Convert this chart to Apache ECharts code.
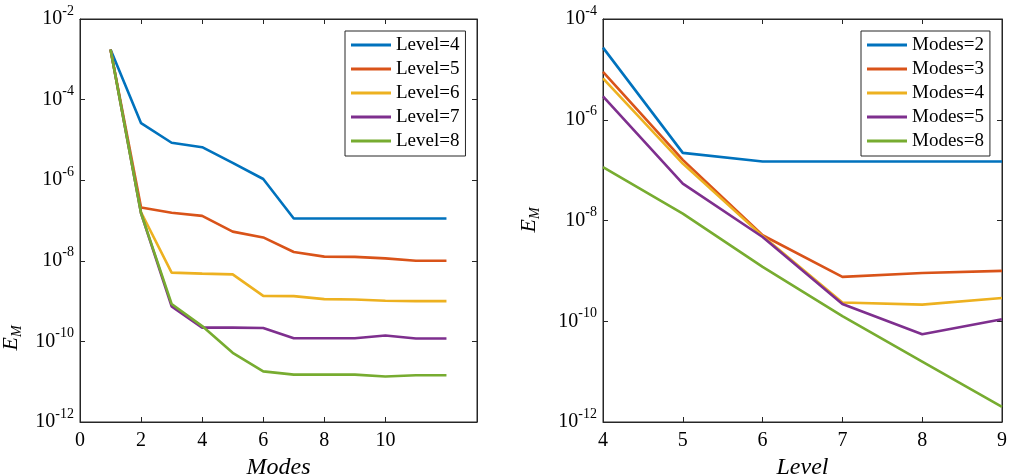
<!DOCTYPE html>
<html>
<head>
<meta charset="utf-8">
<script src="https://cdn.jsdelivr.net/npm/echarts@6/dist/echarts.min.js"></script>
<style>html,body{margin:0;padding:0;background:#fff;}#c{width:1015px;height:476px;}</style>
</head>
<body>
<div id="c"></div>
<script>
// ---- Data ----
const modesX = [1, 2, 3, 4, 5, 6, 7, 8, 9, 10, 11, 12];
const level4 = [1.76e-3, 2.6e-5, 8.5e-6, 6.6e-6, 2.7e-6, 1.07e-6, 1.12e-7, 1.12e-7, 1.12e-7, 1.12e-7, 1.12e-7, 1.12e-7];
const level5 = [1.76e-3, 2.1e-7, 1.55e-7, 1.3e-7, 5.3e-8, 3.8e-8, 1.65e-8, 1.27e-8, 1.25e-8, 1.15e-8, 1.0e-8, 1.0e-8];
const level6 = [1.76e-3, 1.6e-7, 5.1e-9, 4.8e-9, 4.6e-9, 1.35e-9, 1.33e-9, 1.12e-9, 1.1e-9, 1.02e-9, 1.0e-9, 1.0e-9];
const level7 = [1.76e-3, 1.5e-7, 7.4e-10, 2.2e-10, 2.2e-10, 2.15e-10, 1.2e-10, 1.2e-10, 1.2e-10, 1.4e-10, 1.18e-10, 1.18e-10];
const level8 = [1.76e-3, 1.5e-7, 8.5e-10, 2.4e-10, 5.2e-11, 1.8e-11, 1.5e-11, 1.5e-11, 1.5e-11, 1.35e-11, 1.45e-11, 1.45e-11];
const leftNames = ['Level=4', 'Level=5', 'Level=6', 'Level=7', 'Level=8'];
const leftXTicks = [0, 2, 4, 6, 8, 10];

const levelX = [4, 5, 6, 7, 8, 9];
const modes2 = [2.7e-5, 2.2e-7, 1.48e-7, 1.48e-7, 1.48e-7, 1.48e-7];
const modes3 = [8.9e-6, 1.6e-7, 5.1e-9, 7.6e-10, 9.1e-10, 1.0e-9];
const modes4 = [6.6e-6, 1.35e-7, 4.9e-9, 2.35e-10, 2.14e-10, 2.9e-10];
const modes5 = [2.9e-6, 5.4e-8, 4.7e-9, 2.2e-10, 5.5e-11, 1.1e-10];
const modes8 = [1.15e-7, 1.37e-8, 1.2e-9, 1.26e-10, 1.58e-11, 2.0e-12];
const rightNames = ['Modes=2', 'Modes=3', 'Modes=4', 'Modes=5', 'Modes=8'];

const colors = ['#0072BD', '#D95319', '#EDB120', '#7E2F8E', '#77AC30'];

// ---- Helpers ----
const FONT = 'Liberation Serif';
const AX = '#262626';
function zip(xs, ys) { return xs.map((x, i) => [x, ys[i]]); }
function powLabel(v) {
  const e = Math.round(Math.log10(v));
  return '{b|10}{s|' + e + '}';
}
const powRich = {
  b: { fontFamily: FONT, fontSize: 20, color: '#000', lineHeight: 30 },
  s: { fontFamily: FONT, fontSize: 14, color: '#000', lineHeight: 14, verticalAlign: 'top' }
};
function mkSeries(name, xs, ys, idx, color) {
  return {
    name: name, type: 'line', xAxisIndex: idx, yAxisIndex: idx,
    data: zip(xs, ys), symbol: 'none', showSymbol: false,
    lineStyle: { color: color, width: 2.6 }, itemStyle: { color: color },
    animation: false
  };
}
function legendCfg(names, left) {
  return {
    data: names, orient: 'vertical', left: left, top: 31,
    padding: [4, 6, 5, 6], itemGap: 4, itemWidth: 40, itemHeight: 3, icon: 'rect',
    borderColor: AX, borderWidth: 1, backgroundColor: '#fff',
    textStyle: { fontFamily: FONT, fontSize: 19, color: '#000', lineHeight: 20 },
    selectedMode: false
  };
}
const tickStyle = { show: true, inside: true, length: 5, lineStyle: { color: AX, width: 1 } };
const lineStyle = { show: true, onZero: false, lineStyle: { color: AX, width: 1 } };

const grids = [
  { left: 80, top: 19, width: 397, height: 403, show: true, borderColor: AX, borderWidth: 1, backgroundColor: 'transparent', containLabel: false, outerBoundsMode: 'none' },
  { left: 603, top: 19, width: 399, height: 403, show: true, borderColor: AX, borderWidth: 1, backgroundColor: 'transparent', containLabel: false, outerBoundsMode: 'none' }
];

const xAxes = [
  { type: 'value', gridIndex: 0, min: 0, max: 13, position: 'bottom',
    axisLine: lineStyle, splitLine: { show: false },
    axisTick: Object.assign({}, tickStyle, { customValues: leftXTicks }),
    axisLabel: { customValues: leftXTicks, margin: 9, fontFamily: FONT, fontSize: 20, color: '#000' },
    name: 'Modes', nameLocation: 'middle', nameGap: 34,
    nameTextStyle: { fontFamily: FONT, fontStyle: 'italic', fontSize: 24, color: '#000' } },
  { type: 'value', gridIndex: 1, min: 4, max: 9, interval: 1, position: 'bottom',
    axisLine: lineStyle, splitLine: { show: false }, axisTick: tickStyle,
    axisLabel: { margin: 9, fontFamily: FONT, fontSize: 20, color: '#000' },
    name: 'Level', nameLocation: 'middle', nameGap: 34,
    nameTextStyle: { fontFamily: FONT, fontStyle: 'italic', fontSize: 24, color: '#000' } },
  { type: 'value', gridIndex: 0, min: 0, max: 13, position: 'top',
    axisLine: lineStyle, splitLine: { show: false },
    axisTick: Object.assign({}, tickStyle, { customValues: leftXTicks }),
    axisLabel: { show: false } },
  { type: 'value', gridIndex: 1, min: 4, max: 9, interval: 1, position: 'top',
    axisLine: lineStyle, splitLine: { show: false }, axisTick: tickStyle,
    axisLabel: { show: false } }
];

const yAxes = [
  { type: 'log', logBase: 10, gridIndex: 0, min: 1e-12, max: 1e-2, interval: 2, position: 'left',
    axisLine: lineStyle, splitLine: { show: false }, minorTick: { show: false }, axisTick: tickStyle,
    axisLabel: { margin: 6, formatter: powLabel, rich: powRich } },
  { type: 'log', logBase: 10, gridIndex: 1, min: 1e-12, max: 1e-4, interval: 2, position: 'left',
    axisLine: lineStyle, splitLine: { show: false }, minorTick: { show: false }, axisTick: tickStyle,
    axisLabel: { margin: 6, formatter: powLabel, rich: powRich } },
  { type: 'log', logBase: 10, gridIndex: 0, min: 1e-12, max: 1e-2, interval: 2, position: 'right',
    axisLine: lineStyle, splitLine: { show: false }, axisTick: tickStyle, axisLabel: { show: false } },
  { type: 'log', logBase: 10, gridIndex: 1, min: 1e-12, max: 1e-4, interval: 2, position: 'right',
    axisLine: lineStyle, splitLine: { show: false }, axisTick: tickStyle, axisLabel: { show: false } }
];

const leftData = [level4, level5, level6, level7, level8];
const rightData = [modes2, modes3, modes4, modes5, modes8];
const series = [];
leftData.forEach((d, i) => series.push(mkSeries(leftNames[i], modesX, d, 0, colors[i])));
rightData.forEach((d, i) => series.push(mkSeries(rightNames[i], levelX, d, 1, colors[i])));

const emRich = {
  e: { fontFamily: FONT, fontStyle: 'italic', fontSize: 22, fill: '#000', lineHeight: 26 },
  m: { fontFamily: FONT, fontStyle: 'italic', fontSize: 14, fill: '#000', lineHeight: 14, verticalAlign: 'bottom' }
};
function emLabel(x, y) {
  return { type: 'text', x: x, y: y, rotation: Math.PI / 2, z: 100,
    style: { text: '{e|E}{m|M}', rich: emRich, align: 'center', verticalAlign: 'middle' } };
}

const chart = echarts.init(document.getElementById('c'), null, { renderer: 'canvas' });
chart.setOption({
  animation: false,
  backgroundColor: '#fff',
  color: colors,
  grid: grids,
  xAxis: xAxes,
  yAxis: yAxes,
  legend: [legendCfg(leftNames, 345), legendCfg(rightNames, 861)],
  series: series,
  graphic: [emLabel(11, 338), emLabel(529, 220)]
});
</script>
</body>
</html>
